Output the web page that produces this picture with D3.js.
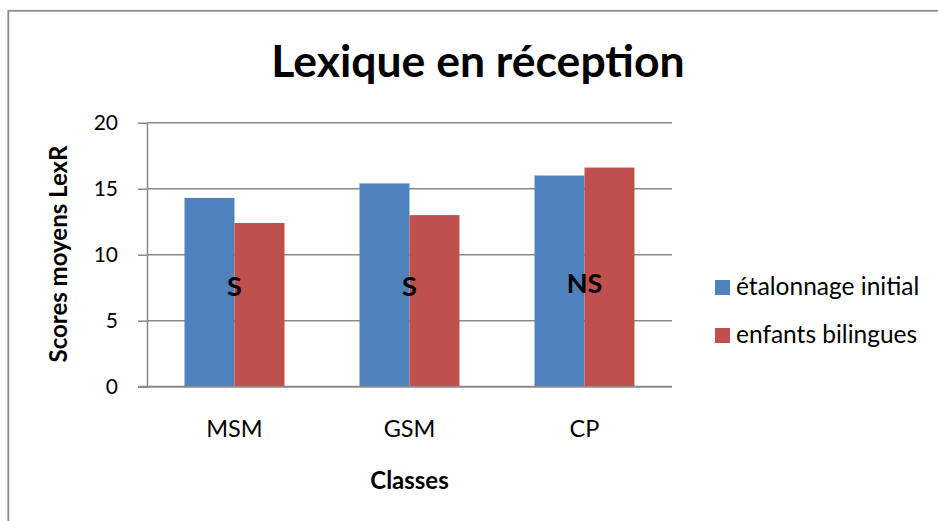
<!DOCTYPE html>
<html>
<head>
<meta charset="utf-8">
<script src="https://cdn.jsdelivr.net/npm/d3@7"></script>
<style>
  html, body { margin: 0; padding: 0; background: #fff; }
  svg { display: block; font-family: Lato, "Open Sans", sans-serif; }
</style>
</head>
<body>
<svg id="chart" width="938" height="521"></svg>
<script>
// Chart values
const classes = ["MSM", "GSM", "CP"];
const seriesNames = ["étalonnage initial", "enfants bilingues"];
const etalonnage = [14.3, 15.4, 16.0];
const bilingues = [12.4, 13.0, 16.6];
const significance = ["S", "S", "NS"];
const yTicks = [0, 5, 10, 15, 20];

const colors = ["#4F81BD", "#C0504D"];
const gridColor = "#8a8a8a";

const width = 938, height = 521;
const plot = { left: 147, right: 672, top: 122.7, bottom: 386.7 };

const svg = d3.select("#chart");

// outer frame (cut off at right and bottom like the source)
svg.append("rect")
  .attr("x", 8.3).attr("y", 10.8)
  .attr("width", 1000).attr("height", 600)
  .attr("fill", "none")
  .attr("stroke", "#8c8c8c")
  .attr("stroke-width", 1.8);

const x = d3.scaleBand()
  .domain(classes)
  .range([plot.left, plot.right])
  .paddingInner(75 / 175)
  .paddingOuter(37.5 / 175);

const x1 = d3.scaleBand()
  .domain(seriesNames)
  .range([0, x.bandwidth()]);

const y = d3.scaleLinear()
  .domain([0, 20])
  .range([plot.bottom, plot.top]);

// gridlines
svg.append("g")
  .selectAll("line")
  .data(yTicks.filter(d => d > 0))
  .join("line")
  .attr("x1", plot.left).attr("x2", plot.right)
  .attr("y1", d => y(d)).attr("y2", d => y(d))
  .attr("stroke", gridColor)
  .attr("stroke-width", 1.5);

// y axis
const yAxis = svg.append("g")
  .attr("transform", `translate(${plot.left},0)`)
  .call(d3.axisLeft(y).tickValues(yTicks).tickSize(9).tickSizeOuter(0).tickPadding(20));
yAxis.select(".domain").attr("stroke", gridColor).attr("stroke-width", 1.5);
yAxis.selectAll(".tick line").attr("stroke", gridColor).attr("stroke-width", 1.5);
yAxis.selectAll("text")
  .attr("font-family", "Lato, sans-serif")
  .attr("font-size", 21)
  .attr("fill", "#000");

// bars
const rows = classes.map((c, i) => ({ cls: c, values: [etalonnage[i], bilingues[i]] }));

const group = svg.append("g")
  .selectAll("g")
  .data(rows)
  .join("g")
  .attr("transform", d => `translate(${x(d.cls)},0)`);

group.selectAll("rect")
  .data(d => d.values.map((v, k) => ({ name: seriesNames[k], value: v, k })))
  .join("rect")
  .attr("x", d => x1(d.name))
  .attr("y", d => y(d.value))
  .attr("width", x1.bandwidth())
  .attr("height", d => y(0) - y(d.value))
  .attr("fill", d => colors[d.k]);

// x baseline
svg.append("line")
  .attr("x1", plot.left - 9).attr("x2", plot.right)
  .attr("y1", y(0)).attr("y2", y(0))
  .attr("stroke", gridColor)
  .attr("stroke-width", 2);

// significance labels
svg.append("g")
  .selectAll("text")
  .data(rows)
  .join("text")
  .attr("x", d => x(d.cls) + x.bandwidth() / 2)
  .attr("y", (d, i) => significance[i] === "NS" ? 293 : 296)
  .attr("text-anchor", "middle")
  .attr("font-weight", "bold")
  .attr("font-size", 27)
  .text((d, i) => significance[i]);

// category labels
svg.append("g")
  .selectAll("text")
  .data(classes)
  .join("text")
  .attr("x", d => x(d) + x.bandwidth() / 2)
  .attr("y", 437)
  .attr("text-anchor", "middle")
  .attr("font-size", 23.5)
  .text(d => d);

// axis titles
svg.append("text")
  .attr("x", (plot.left + plot.right) / 2)
  .attr("y", 489)
  .attr("text-anchor", "middle")
  .attr("font-weight", "bold")
  .attr("font-size", 24)
  .text("Classes");

svg.append("text")
  .attr("transform", "translate(67,254) rotate(-90)")
  .attr("text-anchor", "middle")
  .attr("font-weight", "bold")
  .attr("font-size", 24)
  .text("Scores moyens LexR");

// title
svg.append("text")
  .attr("x", 478)
  .attr("y", 77)
  .attr("text-anchor", "middle")
  .attr("font-weight", "bold")
  .attr("font-size", 44.5)
  .text("Lexique en réception");

// legend
const legend = svg.append("g")
  .selectAll("g")
  .data(seriesNames)
  .join("g")
  .attr("transform", (d, i) => `translate(715,${280 + i * 48})`);

legend.append("rect")
  .attr("width", 15).attr("height", 15)
  .attr("fill", (d, i) => colors[i]);

legend.append("text")
  .attr("x", 21)
  .attr("y", 15)
  .attr("font-size", 24.5)
  .text(d => d);
</script>
</body>
</html>
